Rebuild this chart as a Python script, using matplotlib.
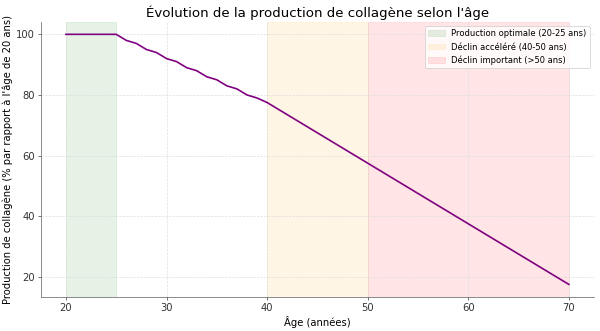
import matplotlib
matplotlib.use("Agg")
import matplotlib.pyplot as plt

# Age (years) and collagen production relative to age 20 (%)
ages = [20, 21, 22, 23, 24, 25, 26, 27, 28, 29, 30, 31, 32, 33, 34, 35,
        36, 37, 38, 39, 40, 41, 42, 43, 44, 45, 46, 47, 48, 49, 50,
        51, 52, 53, 54, 55, 56, 57, 58, 59, 60, 61, 62, 63, 64, 65,
        66, 67, 68, 69, 70]
collagen = [100, 100, 100, 100, 100, 100, 98, 97, 95, 94, 92, 91, 89, 88,
            86, 85, 83, 82, 80, 79, 77.5, 75.5, 73.5, 71.5, 69.5, 67.5,
            65.5, 63.5, 61.5, 59.5, 57.5, 55.5, 53.5, 51.5, 49.5, 47.5,
            45.5, 43.5, 41.5, 39.5, 37.5, 35.5, 33.5, 31.5, 29.5, 27.5,
            25.5, 23.5, 21.5, 19.5, 17.5]

phases = [
    (20, 25, "green", "Production optimale (20-25 ans)"),
    (40, 50, "orange", "Déclin accéléré (40-50 ans)"),
    (50, 70, "red", "Déclin important (>50 ans)"),
]

fig, ax = plt.subplots(figsize=(10, 5.517), dpi=60)
fig.subplots_adjust(left=0.068, right=0.99, top=0.934, bottom=0.103)

for start, end, color, label in phases:
    ax.axvspan(start, end, color=color, alpha=0.1, label=label)

ax.plot(ages, collagen, color="purple", linewidth=2)

ax.set_title("Évolution de la production de collagène selon l'âge", fontsize=16)
ax.set_xlabel("Âge (années)", fontsize=12)
ax.set_ylabel("Production de collagène (% par rapport à l'âge de 20 ans)", fontsize=12)
ax.tick_params(labelsize=12, colors="#333333")
ax.set_xticks([20, 30, 40, 50, 60, 70])
ax.set_yticks([20, 40, 60, 80, 100])
ax.grid(True, linestyle="--", color="#dddddd", linewidth=0.8)
for side in ("top", "right"):
    ax.spines[side].set_visible(False)
for side in ("left", "bottom"):
    ax.spines[side].set_color("#555555")
ax.legend(loc="upper right", fontsize=10)

fig.savefig("out.png", dpi=60)
